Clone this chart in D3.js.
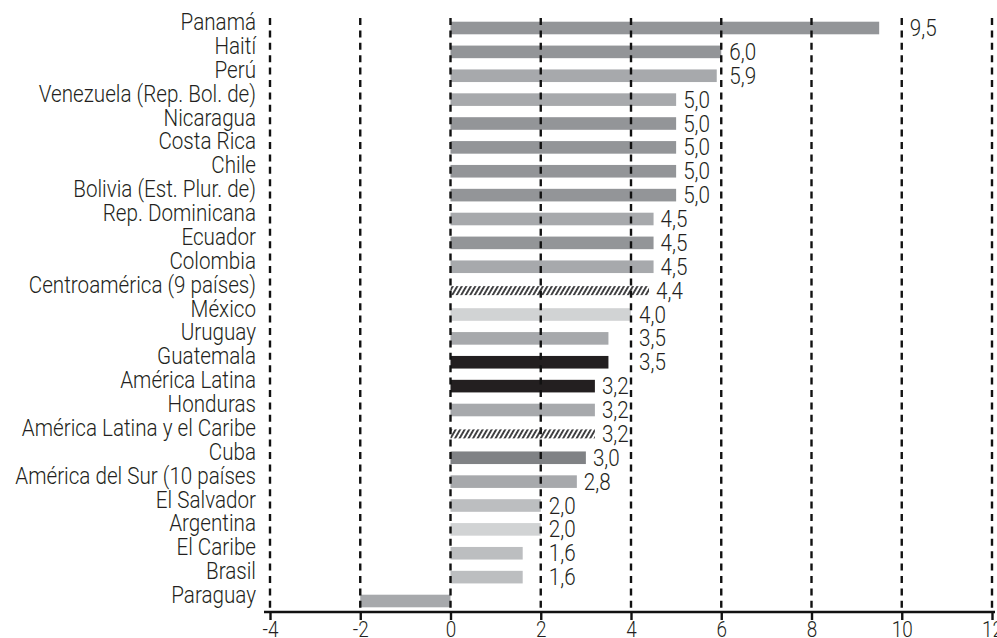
<!DOCTYPE html>
<html>
<head>
<meta charset="utf-8">
<script src="https://cdn.jsdelivr.net/npm/d3@7"></script>
<style>
  html, body { margin: 0; padding: 0; background: #fff; }
  svg { display: block; }
  text { font-family: Roboto, "Liberation Sans", sans-serif; font-weight: 300; fill: #231f20; }
</style>
</head>
<body>
<svg id="chart" width="997" height="638"></svg>
<script>
// Países y agregados regionales, de mayor a menor
const categories = [
  "Panamá", "Haití", "Perú", "Venezuela (Rep. Bol. de)", "Nicaragua",
  "Costa Rica", "Chile", "Bolivia (Est. Plur. de)", "Rep. Dominicana",
  "Ecuador", "Colombia", "Centroamérica (9 países)", "México", "Uruguay",
  "Guatemala", "América Latina", "Honduras", "América Latina y el Caribe",
  "Cuba", "América del Sur (10 países", "El Salvador", "Argentina",
  "El Caribe", "Brasil", "Paraguay"
];

const values = [
  9.5, 6.0, 5.9, 5.0, 5.0,
  5.0, 5.0, 5.0, 4.5,
  4.5, 4.5, 4.4, 4.0, 3.5,
  3.5, 3.2, 3.2, 3.2,
  3.0, 2.8, 2.0, 2.0,
  1.6, 1.6, -2.0
];

// Rows whose value is printed next to the bar
const labelled = categories.map(c => c !== "Paraguay");

const xTicks = [-4, -2, 0, 2, 4, 6, 8, 10, 12];

// Fills per row
const K100 = "#231f20", K60 = "#808285", K50 = "#939598",
      K40 = "#a7a9ac", K30 = "#bcbec0", K20 = "#d1d3d4";
const barFill = {
  "Panamá": K50, "Haití": K50, "Perú": K40, "Venezuela (Rep. Bol. de)": K40,
  "Nicaragua": K50, "Costa Rica": K50, "Chile": K50, "Bolivia (Est. Plur. de)": K50,
  "Rep. Dominicana": K40, "Ecuador": K50, "Colombia": K40,
  "Centroamérica (9 países)": "url(#hatch)", "México": K20, "Uruguay": K40,
  "Guatemala": K100, "América Latina": K100, "Honduras": K40,
  "América Latina y el Caribe": "url(#hatch)", "Cuba": K60,
  "América del Sur (10 países": K40, "El Salvador": K30, "Argentina": K20,
  "El Caribe": K30, "Brasil": K30, "Paraguay": K40
};

const FONT_SIZE = 24;
const SQUEEZE = 0.86;   // condensed lettering

const svg = d3.select("#chart");

// diagonal hatching for the regional aggregates
const defs = svg.append("defs");
const pat = defs.append("pattern")
  .attr("id", "hatch")
  .attr("patternUnits", "userSpaceOnUse")
  .attr("width", 3.9).attr("height", 10)
  .attr("patternTransform", "rotate(30)");
pat.append("rect").attr("width", 3.9).attr("height", 10).attr("fill", "#fff");
pat.append("rect").attr("x", 0).attr("width", 1.9).attr("height", 10).attr("fill", "#3b3b3d");

const x = d3.scaleLinear().domain([-4, 12]).range([270, 992]);
const y = d3.scalePoint().domain(categories).range([28, 601]);
const axisY = 612;
const barH = 12.6, hatchH = 9;

const rows = categories.map((c, i) => ({ name: c, value: values[i], labelled: labelled[i] }));
const isHatch = d => barFill[d.name].startsWith("url");

// bars
svg.append("g").selectAll("rect")
  .data(rows)
  .join("rect")
  .attr("x", d => x(Math.min(0, d.value)))
  .attr("width", d => Math.abs(x(d.value) - x(0)))
  .attr("y", d => y(d.name) - (isHatch(d) ? hatchH : barH) / 2)
  .attr("height", d => isHatch(d) ? hatchH : barH)
  .attr("fill", d => barFill[d.name]);

// dashed vertical gridlines, drawn over the bars
svg.append("g").selectAll("line")
  .data(xTicks)
  .join("line")
  .attr("x1", d => x(d)).attr("x2", d => x(d))
  .attr("y1", 18).attr("y2", axisY)
  .attr("stroke", "#111")
  .attr("stroke-width", 2.4)
  .attr("stroke-dasharray", "7,5.4");

// category labels
svg.append("g").selectAll("text")
  .data(rows)
  .join("text")
  .attr("transform", d => `translate(256,${y(d.name) + 2}) scale(${SQUEEZE},1)`)
  .attr("text-anchor", "end")
  .attr("font-size", FONT_SIZE)
  .text(d => d.name);

// value labels: a bar that ends just short of a gridline gets its label beyond the line
const fmt = v => d3.format(".1f")(v).replace(".", ",");
function labelX(v) {
  const r = v % 2;
  if (r === 0 || r >= 1.5) return x(Math.ceil(v / 2) * 2) + 8;
  return x(v) + 7;
}
svg.append("g").selectAll("text")
  .data(rows.filter(d => d.labelled))
  .join("text")
  .attr("transform", d => `translate(${labelX(d.value)},${y(d.name) + 8}) scale(${SQUEEZE},1)`)
  .attr("font-size", FONT_SIZE)
  .text(d => fmt(d.value));

// bottom axis
const axis = d3.axisBottom(x).tickValues(xTicks).tickSize(8)
  .tickFormat(d => String(d));
const gAxis = svg.append("g").attr("transform", `translate(0,${axisY})`).call(axis);
gAxis.select(".domain").remove();
gAxis.append("line")
  .attr("x1", 264).attr("x2", 995)
  .attr("stroke", "#111").attr("stroke-width", 2.6);
gAxis.selectAll(".tick line").attr("stroke", "#111").attr("stroke-width", 2.4);
gAxis.selectAll(".tick text")
  .attr("y", null).attr("dy", null)
  .attr("transform", `translate(0,25) scale(${SQUEEZE},1)`)
  .attr("font-size", 22)
  .attr("fill", "#231f20")
  .style("font-family", "Roboto, 'Liberation Sans', sans-serif")
  .style("font-weight", 300);
</script>
</body>
</html>
